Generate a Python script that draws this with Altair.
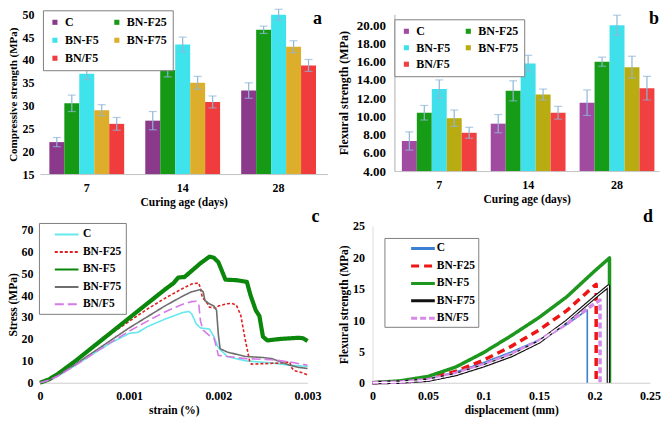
import altair as alt
import pandas as pd

SERIF = "Liberation Serif"
series = ["C", "BN-F25", "BN-F5", "BN-F75", "BN/F5"]
legend_order = ["C", "BN-F5", "BN/F5", "BN-F25", "BN-F75"]  # column-major fill of a 2-column legend
ages = ["7", "14", "28"]

# ---- panel a: compressive strength (MPa) ----
comp = {
    "C": [22.0, 26.7, 33.3],
    "BN-F25": [30.5, 37.8, 46.6],
    "BN-F5": [37.0, 43.4, 49.9],
    "BN-F75": [29.0, 35.0, 42.9],
    "BN/F5": [26.0, 30.8, 38.8],
}
comp_err = {
    "C": [1.0, 2.0, 1.7],
    "BN-F25": [1.8, 1.5, 0.8],
    "BN-F5": [1.3, 1.6, 1.2],
    "BN-F75": [1.2, 1.4, 1.3],
    "BN/F5": [1.4, 1.3, 1.3],
}
# ---- panel b: flexural strength (MPa) ----
flex = {
    "C": [7.3, 9.2, 11.5],
    "BN-F25": [10.4, 12.8, 16.0],
    "BN-F5": [13.0, 15.8, 20.0],
    "BN-F75": [9.8, 12.4, 15.4],
    "BN/F5": [8.2, 10.4, 13.1],
}
flex_err = {
    "C": [1.0, 1.0, 1.4],
    "BN-F25": [0.8, 1.1, 0.5],
    "BN-F5": [1.0, 0.9, 1.1],
    "BN-F75": [0.9, 0.6, 1.2],
    "BN/F5": [0.6, 0.7, 1.3],
}

# ---- panel c: stress-strain ----
ss_strain = {
    "C": [0, 0.0001, 0.0002, 0.0004, 0.0006, 0.0008, 0.001, 0.0011, 0.0012, 0.0014, 0.0016, 0.00167, 0.0017, 0.00175, 0.0018, 0.0019, 0.00195, 0.002, 0.0021, 0.0023, 0.0026, 0.0028, 0.003],
    "BN-F25": [0, 0.0001, 0.0002, 0.0004, 0.0006, 0.0008, 0.001, 0.0012, 0.0014, 0.0016, 0.0017, 0.00178, 0.0018, 0.00182, 0.00188, 0.0019, 0.00198, 0.002, 0.0021, 0.00215, 0.0022, 0.00225, 0.0023, 0.00235, 0.00237, 0.0027, 0.0028, 0.00282, 0.00285, 0.00295, 0.003],
    "BN-F5": [0, 0.0001, 0.0002, 0.0004, 0.0006, 0.0008, 0.001, 0.0012, 0.0014, 0.0015, 0.00155, 0.00162, 0.0017, 0.0018, 0.0019, 0.00195, 0.002, 0.00205, 0.00208, 0.0022, 0.00232, 0.00236, 0.00242, 0.00246, 0.0025, 0.00255, 0.0027, 0.0029, 0.00295, 0.003],
    "BN-F75": [0, 0.0001, 0.0002, 0.0004, 0.0006, 0.0008, 0.001, 0.0012, 0.0014, 0.0016, 0.0017, 0.0018, 0.00183, 0.00185, 0.0019, 0.00195, 0.00198, 0.002, 0.00202, 0.0021, 0.0023, 0.0025, 0.0026, 0.0027, 0.0028, 0.0029, 0.003],
    "BN/F5": [0, 0.0001, 0.0002, 0.0004, 0.0006, 0.0008, 0.001, 0.0012, 0.0014, 0.0016, 0.0017, 0.00175, 0.00178, 0.0018, 0.00183, 0.0019, 0.00195, 0.00198, 0.002, 0.0021, 0.0023, 0.0026, 0.0028, 0.003],
}
ss_stress = {
    "C": [0, 1.1, 3.0, 8.0, 13.3, 18.3, 22.5, 23.0, 25.5, 29.0, 32.0, 32.5, 31.5, 27.0, 25.0, 24.5, 21.0, 16.0, 12.0, 10.0, 9.0, 8.0, 7.5],
    "BN-F25": [0, 1.5, 4.0, 10.0, 16.3, 22.5, 28.0, 33.5, 38.5, 43.0, 45.0, 45.5, 43.0, 39.0, 36.0, 34.5, 34.0, 35.0, 36.0, 36.2, 35.5, 31.0, 20.0, 10.0, 8.5, 9.0, 9.5, 7.0, 5.5, 4.5, 3.5],
    "BN-F5": [0, 1.5, 4.0, 10.0, 16.5, 23.0, 29.5, 36.0, 42.5, 45.5, 48.0, 48.2, 51.0, 54.5, 57.5, 57.0, 55.0, 50.0, 47.0, 46.8, 46.0, 40.0, 33.0, 30.5, 21.0, 19.3, 20.0, 20.5, 20.3, 19.0],
    "BN-F75": [0, 1.2, 3.3, 8.5, 14.0, 19.5, 25.0, 30.0, 35.0, 39.5, 41.5, 42.5, 41.5, 37.5, 36.0, 35.0, 33.0, 22.0, 15.5, 14.0, 12.0, 11.5, 11.0, 9.5, 8.0, 7.0, 6.5],
    "BN/F5": [0, 1.1, 3.0, 8.0, 13.3, 18.5, 23.5, 28.0, 32.3, 35.8, 37.0, 37.2, 36.0, 28.0, 24.0, 21.5, 20.5, 16.0, 12.5, 12.0, 11.0, 10.5, 9.5, 8.0],
}

# ---- panel d: flexural strength vs displacement ----
fd_disp = {
    "C": [0, 0.025, 0.05, 0.075, 0.1, 0.125, 0.15, 0.175, 0.1935, 0.1935],
    "BN-F25": [0, 0.025, 0.05, 0.075, 0.1, 0.125, 0.15, 0.175, 0.2, 0.2015, 0.2015],
    "BN-F5": [0, 0.025, 0.05, 0.075, 0.1, 0.125, 0.15, 0.175, 0.2, 0.2135, 0.2135],
    "BN-F75": [0, 0.025, 0.05, 0.075, 0.1, 0.125, 0.15, 0.175, 0.2, 0.2125, 0.2125],
    "BN/F5": [0, 0.025, 0.05, 0.075, 0.1, 0.125, 0.15, 0.175, 0.195, 0.205, 0.205],
}
fd_stress = {
    "C": [0, 0.15, 0.6, 1.7, 3.2, 4.9, 6.8, 9.3, 11.6, 0],
    "BN-F25": [0, 0.2, 0.7, 1.8, 3.6, 5.8, 8.4, 11.5, 15.5, 15.7, 0],
    "BN-F5": [0, 0.3, 1.0, 2.5, 4.8, 7.5, 10.4, 13.7, 17.8, 19.9, 0],
    "BN-F75": [0, 0.1, 0.4, 1.3, 2.7, 4.3, 6.5, 9.8, 13.6, 15.4, 0],
    "BN/F5": [0, 0.1, 0.5, 1.5, 2.9, 4.6, 6.7, 9.4, 12.0, 13.2, 0],
}

ERR = "#8fb6d8"
colors_a = {"C": "#8b3a8b", "BN-F25": "#169a16", "BN-F5": "#3fe3ec", "BN-F75": "#dcae2c", "BN/F5": "#f03c3c"}
colors_b = {"C": "#a04aa0", "BN-F25": "#179c17", "BN-F5": "#3fe0ea", "BN-F75": "#b9ab12", "BN/F5": "#f04040"}
colors_c = ["#66e8ec", "#e02020", "#0b870b", "#6e6e6e", "#d57ae6"]
colors_d = ["#3a7fd4", "#ee1515", "#1d971d", "#111111", "#d58ae8"]


def bar_df(vals, errs):
    rows = []
    for s in series:
        for i, a in enumerate(ages):
            v, e = vals[s][i], errs[s][i]
            rows.append({"series": s, "age": a, "value": v, "lo": v - e, "hi": v + e})
    return pd.DataFrame(rows)


def line_df(xs, ys):
    rows = []
    for s in series:
        for i, (x, y) in enumerate(zip(xs[s], ys[s])):
            rows.append({"series": s, "x": x, "y": y, "idx": i})
    return pd.DataFrame(rows)


def letter(t, x, y):
    return alt.Chart(pd.DataFrame({"t": [t]})).mark_text(
        font=SERIF, fontWeight="bold", fontSize=18, align="center", baseline="alphabetic", color="black"
    ).encode(x=alt.value(x), y=alt.value(y), text="t:N")


def bar_panel(df, colors, ymin, ymax, yvals, fmt, ytitle, pin, pout, align, w, h, legx, legy, leg_rowpad,
              let, lx, ly, ydomain, lsize, lpad, tpad, tsize):
    x = alt.X("age:N", sort=ages, scale=alt.Scale(paddingInner=pin, paddingOuter=pout, align=align),
              axis=alt.Axis(title="Curing  age (days)", labelAngle=0, ticks=False, domainColor="#c4c4c4",
                            labelFont=SERIF, labelFontWeight="bold", labelFontSize=12, labelPadding=8,
                            titleFont=SERIF, titleFontWeight="bold", titleFontSize=11.5, titlePadding=3))
    xo = alt.XOffset("series:N", sort=series, scale=alt.Scale(paddingInner=0, paddingOuter=0))
    yax = alt.Axis(title=ytitle, values=yvals, format=fmt, ticks=False, domain=ydomain, domainColor="#b0b0b0",
                   grid=False, labelOverlap=False,
                   labelFont=SERIF, labelFontWeight="bold", labelFontSize=lsize, labelPadding=lpad,
                   titleFont=SERIF, titleFontWeight="bold", titleFontSize=tsize, titlePadding=tpad)
    ysc = alt.Scale(domain=[ymin, ymax], zero=False, nice=False)
    col = alt.Color("series:N",
                    scale=alt.Scale(domain=legend_order, range=[colors[s] for s in legend_order]),
                    legend=alt.Legend(title=None, orient="none", legendX=legx, legendY=legy, columns=2,
                                      symbolType="square", symbolSize=26, symbolStrokeWidth=0,
                                      labelFont=SERIF, labelFontWeight="bold", labelFontSize=12,
                                      columnPadding=12, rowPadding=leg_rowpad, padding=6,
                                      fillColor="white", strokeColor="#808080"))
    base = alt.Chart(df)
    bars = base.mark_bar(stroke=None).encode(x=x, xOffset=xo, y=alt.Y("value:Q", scale=ysc, axis=yax),
                                             y2=alt.datum(ymin), color=col)
    rule = base.mark_rule(color=ERR, strokeWidth=1.2).encode(
        x=x, xOffset=xo, y=alt.Y("lo:Q", scale=ysc, axis=yax), y2="hi:Q")
    cap = base.mark_tick(color=ERR, size=8, thickness=1.2, orient="horizontal").encode(
        x=x, xOffset=xo, y=alt.Y("hi:Q", scale=ysc, axis=yax))
    cap2 = base.mark_tick(color=ERR, size=8, thickness=1.2, orient="horizontal").encode(
        x=x, xOffset=xo, y=alt.Y("lo:Q", scale=ysc, axis=yax))
    return alt.layer(bars, rule, cap, cap2, letter(let, lx, ly)).properties(width=w, height=h)


def line_panel(df, colors, dashes, width_rule, symw, xdom, xvals, xexpr, xtitle, ydom, yvals, ytitle, w, h,
               legx, legy, let, lx, ly, sympath, loff, rowpad, lpad_leg, ydomainline, tpad, lpad, extra=None):
    leg = alt.Legend(title=None, orient="none", legendX=legx, legendY=legy, symbolType=sympath,
                     symbolSize=156, symbolStrokeWidth=symw, labelFont=SERIF, labelFontWeight="bold",
                     labelFontSize=11.5, rowPadding=rowpad, padding=lpad_leg, labelOffset=loff,
                     fillColor="white", strokeColor="#808080")
    x = alt.X("x:Q", scale=alt.Scale(domain=xdom, nice=False, zero=False),
              axis=alt.Axis(title=xtitle, values=xvals, labelExpr=xexpr, ticks=False, grid=False,
                            domainColor="#d0d0d0", labelFont=SERIF, labelFontWeight="bold", labelFontSize=12,
                            labelPadding=8, titleFont=SERIF, titleFontWeight="bold", titleFontSize=11.5,
                            titlePadding=3, labelFlush=False, labelOverlap=False))
    y = alt.Y("y:Q", scale=alt.Scale(domain=ydom, nice=False, zero=False),
              axis=alt.Axis(title=ytitle, values=yvals, ticks=False, grid=False, domain=ydomainline,
                            domainColor="#dddddd", labelOverlap=False,
                            labelFont=SERIF, labelFontWeight="bold", labelFontSize=12, labelPadding=lpad,
                            titleFont=SERIF, titleFontWeight="bold", titleFontSize=11.5, titlePadding=tpad))
    lines = alt.Chart(df).mark_line(strokeCap="butt", strokeJoin="round").encode(
        x=x, y=y, order="idx:Q",
        color=alt.Color("series:N", sort=series, scale=alt.Scale(domain=series, range=colors), legend=leg),
        strokeDash=alt.StrokeDash("series:N", sort=series, scale=alt.Scale(domain=series, range=dashes), legend=leg),
        strokeWidth=width_rule,
    )
    layers = [lines]
    if extra is not None:
        layers.append(extra(alt.Chart(df), x, y))
    layers.append(letter(let, lx, ly))
    return alt.layer(*layers).properties(width=w, height=h)


pa = bar_panel(bar_df(comp, comp_err), colors_a, 15, 50, [15, 20, 25, 30, 35, 40, 45, 50], "d",
               "Compressive strength (MPa)", 0.22, 0.109, 0.45, 288, 160, 3, -4, 6,
               "a", 278, 10, False, 12, 6, 3, 11)
pb = bar_panel(bar_df(flex, flex_err), colors_b, 4, 21.2, [4, 6, 8, 10, 12, 14, 16, 18, 20], ".2f",
               "Flexural strength (MPa)", 0.157, 0.067, 0.625, 265, 157, 0, 5, 4.5,
               "b", 260, 10, True, 13, 9, 6, 12)

df_c = line_df(ss_strain, ss_stress)
pc = line_panel(df_c, colors_c, [[1, 0], [3, 2], [1, 0], [1, 0], [9, 4]],
                alt.condition(alt.datum.series == "BN-F5", alt.value(4.2), alt.value(1.6)), 2,
                [0, 0.003], [0, 0.001, 0.002, 0.003],
                "datum.value == 0 ? '0' : format(datum.value, '.3f')", "strain (%)",
                [0, 71.5], [0, 10, 20, 30, 40, 50, 60, 70], "Stress (MPa)", 268, 157, -1, -3,
                "c", 276, -4, "M0.7,0H4.5", 25, 4.5, 4, False, 2, 7)


def double_line(base, x, y):
    return base.transform_filter(alt.datum.series == "BN-F75").mark_line(
        color="white", strokeWidth=1.1, strokeCap="butt").encode(x=x, y=y, order="idx:Q")


df_d = line_df(fd_disp, fd_stress)
pd_ = line_panel(df_d, colors_d, [[1, 0], [8, 5], [1, 0], [1, 0], [6, 3]],
                 alt.condition(alt.datum.series == "C", alt.value(1.6), alt.value(3.5)), 3,
                 [0, 0.25], [0, 0.05, 0.1, 0.15, 0.2, 0.25],
                 "datum.value == 0 ? '0' : format(datum.value, '~g')", "displacement  (mm)",
                 [0, 25], [0, 5, 10, 15, 20, 25], "Flexural strength (MPa)", 278, 157, 12, 12,
                 "d", 276, -4, "M2.6,0H6.4", 34, 3.5, 2.5, True, 3, 8, extra=double_line)

RES = dict(color="independent", strokeDash="independent")

row1 = alt.hconcat(pa, pb, spacing=9).resolve_scale(**RES).resolve_legend(**RES)
row2 = alt.hconcat(pc, pd_, spacing=17).resolve_scale(**RES).resolve_legend(**RES)

chart = alt.vconcat(row1, row2, spacing=0, padding=0).resolve_scale(**RES).resolve_legend(**RES).configure_view(
    stroke=None).configure_axis(labelFont=SERIF, titleFont=SERIF).configure_legend(labelFont=SERIF)

chart.save("out.html", embed_options={"renderer": "svg", "actions": False})
